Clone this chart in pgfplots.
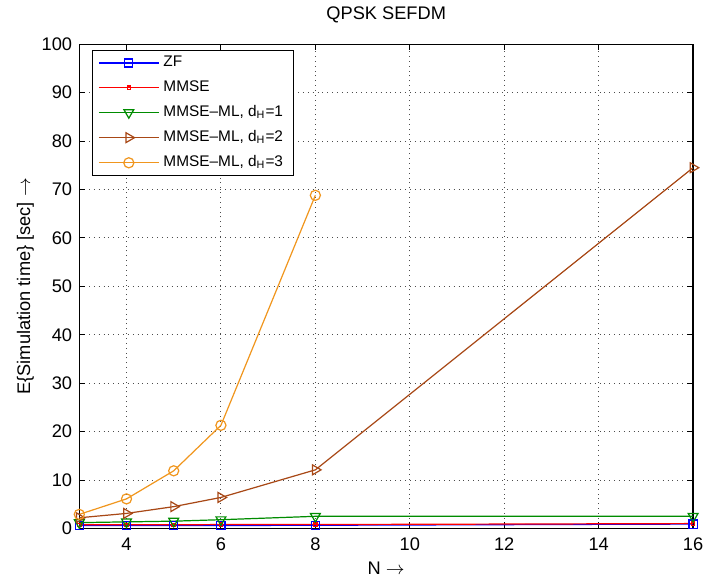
\documentclass[border=0pt]{standalone}
\usepackage{fontspec}
\setmainfont{Liberation Sans}
\usepackage{pgfplots}
\pgfplotsset{compat=1.18}

\definecolor{mlblue}{rgb}{0,0,1}
\definecolor{mlred}{rgb}{1,0,0}
\definecolor{mlgreen}{rgb}{0,0.55,0}
\definecolor{mlbrown}{RGB}{168,72,22}
\definecolor{mlorange}{RGB}{240,150,30}

\begin{document}
\begin{tikzpicture}
\begin{axis}[
  scale only axis,
  width=303pt, height=239pt,
  xmin=3, xmax=16, ymin=0, ymax=100,
  xtick={4,6,8,10,12,14,16},
  ytick={0,10,...,100},
  tick align=inside,
  major tick length=3pt,
  axis line style={black, line width=0.6pt},
  tick style={black, line width=0.5pt},
  grid=major,
  major grid style={black!70, dotted, line width=0.5pt},
  every tick label/.style={font=\fontsize{9}{11}\selectfont},
  xticklabel style={yshift=-1pt},
  /pgf/number format/assume math mode=true,
  title={QPSK SEFDM},
  title style={font=\fontsize{9}{11}\selectfont, yshift=1pt},
  xlabel={N $\rightarrow$},
  ylabel={E\{Simulation time\} [sec] $\rightarrow$},
  label style={font=\fontsize{9}{11}\selectfont},
  xlabel style={yshift=1pt},
  ylabel style={yshift=-3pt},
  legend style={at={(0.02,0.988)}, anchor=north west,
    font=\fontsize{7.6}{9.5}\selectfont, draw=black, line width=0.6pt,
    row sep=3pt, inner xsep=3pt, inner ysep=1.5pt,
    nodes={inner ysep=1.2pt},
    /tikz/every even column/.append style={column sep=1.5pt}},
  legend cell align=left,
  legend image code/.code={
    \draw[#1, line width=0.6pt, mark repeat=2, mark phase=2]
      plot coordinates {(0cm,0cm) (0.52cm,0cm) (1.04cm,0cm)};
  },
  every axis plot/.append style={line width=0.6pt},
]
% ZF detector
\addplot[color=mlblue, mark=square, mark size=2pt] coordinates {
  (3,0.6) (4,0.6) (5,0.6) (6,0.6) (8,0.65) (16,0.9)};
\addlegendentry{ZF}
% MMSE detector
\addplot[color=mlred, mark=square, mark size=0.8pt] coordinates {
  (3,0.75) (4,0.75) (5,0.75) (6,0.8) (8,0.8) (16,1.0)};
\addlegendentry{MMSE}
% MMSE-ML with Hamming distance 1
\addplot[color=mlgreen, mark=triangle, mark size=2.8pt,
  every mark/.append style={rotate=180}] coordinates {
  (3,1.2) (4,1.35) (5,1.5) (6,1.8) (8,2.5) (16,2.5)};
\addlegendentry{MMSE--ML, d\textsubscript{H}=1}
% MMSE-ML with Hamming distance 2
\addplot[color=mlbrown, mark=triangle, mark size=2.8pt,
  every mark/.append style={rotate=-90}] coordinates {
  (3,2.2) (4,3.1) (5,4.5) (6,6.4) (8,12.1) (16,74.5)};
\addlegendentry{MMSE--ML, d\textsubscript{H}=2}
% MMSE-ML with Hamming distance 3
\addplot[color=mlorange, mark=o, mark size=2.5pt] coordinates {
  (3,2.9) (4,6.1) (5,11.9) (6,21.3) (8,68.8)};
\addlegendentry{MMSE--ML, d\textsubscript{H}=3}
\end{axis}
% margin to the left of the y label and below the x label
\path (current bounding box.south west) ++(-5pt,-3pt);
\end{tikzpicture}
\end{document}
